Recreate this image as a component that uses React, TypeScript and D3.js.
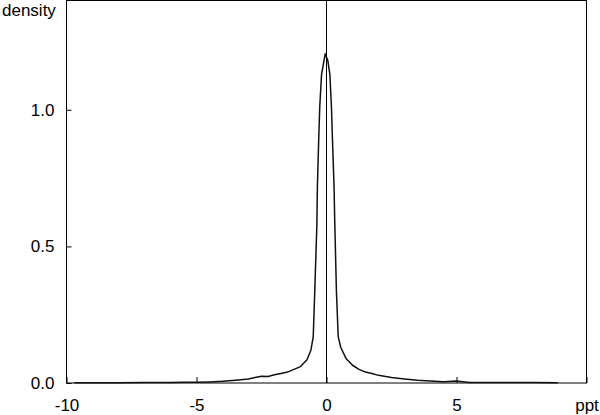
import * as d3 from "d3";
import { useEffect, useRef } from "react";

// kernel density estimate
const xs = [
  -9.7, -9, -8, -7, -6, -5.5, -5, -4.5, -4, -3.5, -3, -2.75, -2.5, -2.25, -2,
  -1.75, -1.5, -1.25, -1, -0.75, -0.6, -0.51, -0.45, -0.37, -0.35, -0.3, -0.26,
  -0.19, -0.05, 0.05, 0.13, 0.19, 0.23, 0.29, 0.32, 0.38, 0.45, 0.55, 0.75, 1,
  1.25, 1.5, 1.75, 2, 2.5, 3, 3.5, 4, 4.5, 5, 5.5, 6, 7, 8, 8.9,
];
const ys = [
  0.001, 0.001, 0.001, 0.002, 0.002, 0.003, 0.003, 0.004, 0.006, 0.01, 0.015,
  0.02, 0.025, 0.024, 0.03, 0.035, 0.04, 0.05, 0.06, 0.085, 0.12, 0.17, 0.34,
  0.58, 0.72, 0.89, 1.01, 1.13, 1.205, 1.18, 1.13, 1.01, 0.89, 0.72, 0.58,
  0.34, 0.17, 0.13, 0.09, 0.065, 0.05, 0.04, 0.035, 0.028, 0.02, 0.015, 0.01,
  0.007, 0.005, 0.007, 0.002, 0.002, 0.002, 0.002, 0.001,
];

const xTicks = [-10, -5, 0, 5, 10];
const xTickLabels = ["-10", "-5", "0", "5", "ppt"];
const yTicks = [0, 0.5, 1.0];
const yTickLabels = ["0.0", "0.5", "1.0"];
const yTitle = "density";

const W = 600;
const H = 415;
const margin = { top: 0.5, right: 13.5, bottom: 32, left: 66.5 };

const App = () => {
  const ref = useRef<SVGSVGElement>(null);

  useEffect(() => {
    const svg = d3.select(ref.current);
    svg.selectAll("*").remove();

    const x = d3.scaleLinear().domain([-10, 10]).range([margin.left, W - margin.right]);
    const y = d3.scaleLinear().domain([0, 1.4]).range([H - margin.bottom, margin.top]);
    const font = "'Liberation Sans', Arial, sans-serif";

    // frame
    svg.append("rect")
      .attr("x", x(-10))
      .attr("y", y(1.4))
      .attr("width", x(10) - x(-10))
      .attr("height", y(0) - y(1.4))
      .attr("fill", "none")
      .attr("stroke", "black")
      .attr("stroke-width", 1);

    // zero line
    svg.append("line")
      .attr("x1", x(0)).attr("x2", x(0))
      .attr("y1", y(1.4)).attr("y2", y(0))
      .attr("stroke", "black")
      .attr("stroke-width", 1);

    // x axis ticks pointing inward
    const xAxis = svg.append("g")
      .attr("transform", `translate(0,${y(0)})`)
      .call(
        d3.axisBottom(x)
          .tickValues(xTicks)
          .tickSize(-6)
          .tickPadding(16)
          .tickFormat((_, i) => xTickLabels[i])
      );
    xAxis.select(".domain").remove();
    xAxis.selectAll("line").attr("stroke", "black");
    xAxis.selectAll("text")
      .attr("fill", "black")
      .attr("font-family", font)
      .attr("font-size", "17px");

    // y axis ticks pointing inward
    const yAxis = svg.append("g")
      .attr("transform", `translate(${x(-10)},0)`)
      .call(
        d3.axisLeft(y)
          .tickValues(yTicks)
          .tickSize(-5)
          .tickPadding(12)
          .tickFormat((_, i) => yTickLabels[i])
      );
    yAxis.select(".domain").remove();
    yAxis.selectAll("line").attr("stroke", "black");
    yAxis.selectAll("text")
      .attr("fill", "black")
      .attr("font-family", font)
      .attr("font-size", "17px");

    // y title
    svg.append("text")
      .attr("x", 2)
      .attr("y", 16)
      .attr("fill", "black")
      .attr("font-family", font)
      .attr("font-size", "17px")
      .text(yTitle);

    // density curve
    const data = xs.map((v, i) => ({ x: v, y: ys[i] }));
    const line = d3.line<{ x: number; y: number }>()
      .x((d) => x(d.x))
      .y((d) => y(d.y));
    svg.append("path")
      .datum(data)
      .attr("d", line)
      .attr("fill", "none")
      .attr("stroke", "#111")
      .attr("stroke-width", 1.5)
      .attr("stroke-linejoin", "round");
  }, []);

  return (
    <svg
      ref={ref}
      width={W}
      height={H}
      style={{ position: "absolute", left: 0, top: 0, background: "white" }}
    />
  );
};

export default App;
